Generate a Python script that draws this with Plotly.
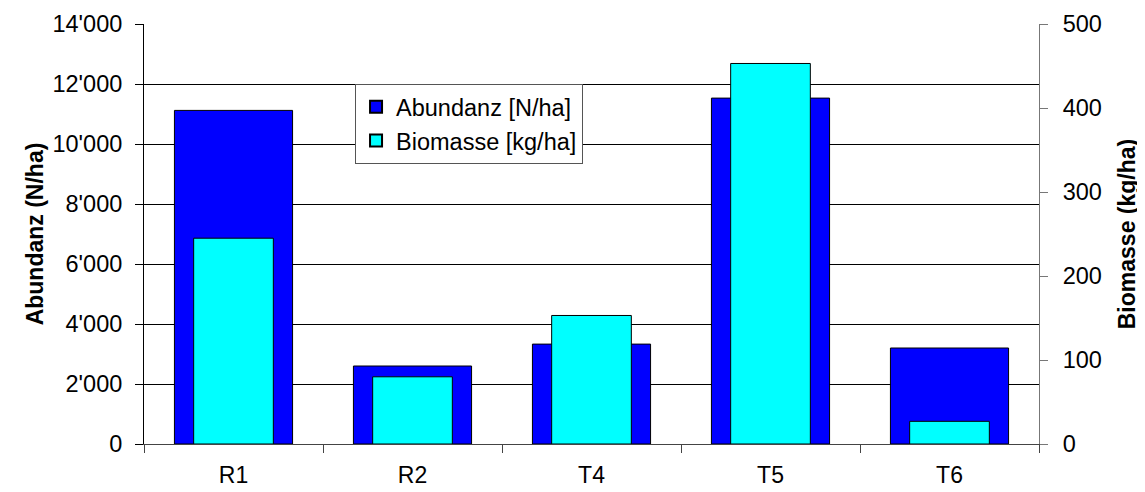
import plotly.graph_objects as go

categories = ["R1", "R2", "T4", "T5", "T6"]
abundanz = [11120, 2600, 3330, 11530, 3200]
biomasse = [245, 80, 153, 453, 27]

font_family = "Liberation Sans, Arial, sans-serif"

fig = go.Figure()
fig.add_trace(go.Bar(
    x=categories, y=abundanz, name="Abundanz [N/ha]",
    marker=dict(color="#0000FF", line=dict(color="black", width=1)),
    width=0.66, yaxis="y",
))
fig.add_trace(go.Bar(
    x=categories, y=biomasse, name="Biomasse [kg/ha]",
    marker=dict(color="#00FFFF", line=dict(color="black", width=1)),
    width=0.445, yaxis="y2",
))

fig.update_layout(
    width=1145, height=492,
    margin=dict(l=136, r=114, t=16, b=56, autoexpand=False),
    paper_bgcolor="white", plot_bgcolor="white",
    barmode="overlay",
    separators=".'",
    font=dict(family=font_family, size=23, color="black"),
    showlegend=True,
    legend=dict(
        x=0.2358, y=0.857, xanchor="left", yanchor="top",
        bgcolor="white", bordercolor="#555555", borderwidth=1,
        font=dict(size=23.5),
        itemsizing="constant",
    ),
    xaxis=dict(
        type="category",
        showline=True, linecolor="#444444", linewidth=1,
        ticks="outside", ticklen=8, tickcolor="#444444",
        tickson="boundaries",
        showgrid=False,
        tickfont=dict(size=23),
        ticklabelstandoff=10,
    ),
    yaxis=dict(
        range=[0, 14000], tickvals=[0, 2000, 4000, 6000, 8000, 10000, 12000, 14000],
        tickformat=",d",
        showgrid=True, gridcolor="black", gridwidth=1,
        showline=True, linecolor="black", linewidth=1,
        ticks="outside", ticklen=8, tickcolor="black",
        zeroline=False,
        tickfont=dict(size=23.5),
        ticklabelstandoff=8,
        title=dict(text="<b>Abundanz (N/ha)</b>", font=dict(size=23), standoff=2),
    ),
    yaxis2=dict(
        range=[0, 500], tickvals=[0, 100, 200, 300, 400, 500],
        overlaying="y", side="right",
        showgrid=False, zeroline=False,
        showline=True, linecolor="#777777", linewidth=1,
        ticks="outside", ticklen=8, tickcolor="#777777",
        tickfont=dict(size=23.5),
        ticklabelstandoff=10,
        title=dict(text="<b>Biomasse (kg/ha)</b>", font=dict(size=23), standoff=17),
    ),
)

fig.write_html("out.html")
